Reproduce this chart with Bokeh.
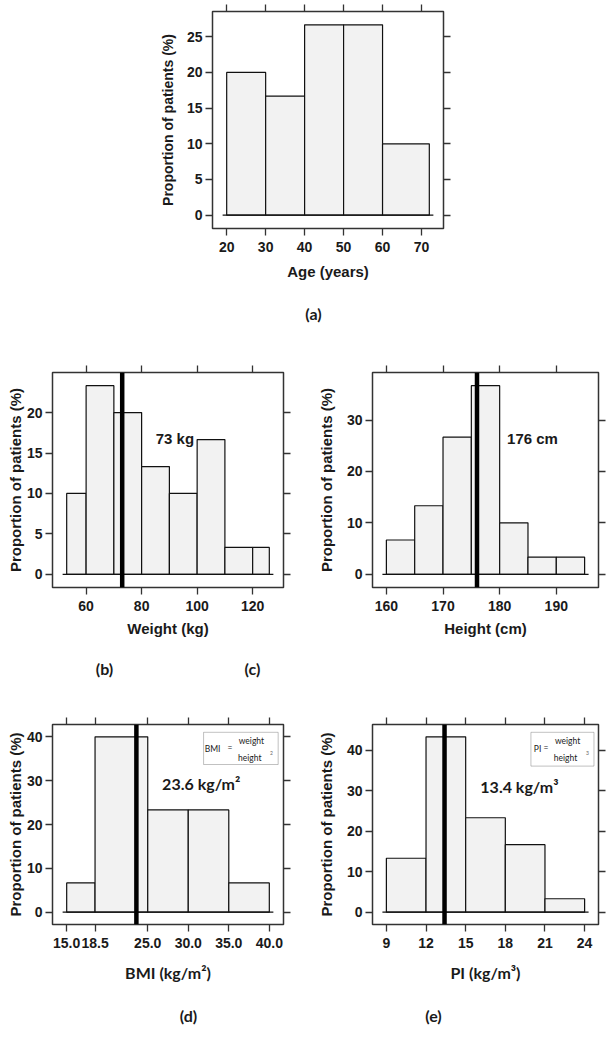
from bokeh.plotting import figure
from bokeh.models import (Range1d, FixedTicker, LinearAxis, Span, Label,
                          BoxAnnotation, PrintfTickFormatter, CustomLabelingPolicy)
from bokeh.layouts import column, row
from bokeh.embed import file_html
from bokeh.resources import INLINE

# ---------------- data ----------------
age_edges = [20, 30, 40, 50, 60, 72]
age_pct = [20.0, 16.67, 26.67, 26.67, 10.0]
age_xticks = [20, 30, 40, 50, 60, 70]
age_yticks = [0, 5, 10, 15, 20, 25]

weight_edges = [53, 60, 70, 80, 90, 100, 110, 120, 126]
weight_pct = [10.0, 23.33, 20.0, 13.33, 10.0, 16.67, 3.33, 3.33]
weight_xticks = [60, 80, 100, 120]
weight_yticks = [0, 5, 10, 15, 20]
weight_mean = 73

height_edges = [160, 165, 170, 175, 180, 185, 190, 195]
height_pct = [6.67, 13.33, 26.67, 36.67, 10.0, 3.33, 3.33]
height_xticks = [160, 170, 180, 190]
height_yticks = [0, 10, 20, 30]
height_mean = 176

bmi_edges = [15.0, 18.5, 25.0, 30.0, 35.0, 40.0]
bmi_pct = [6.67, 40.0, 23.33, 23.33, 6.67]
bmi_xticks = [15.0, 18.5, 25.0, 30.0, 35.0, 40.0]
bmi_yticks = [0, 10, 20, 30, 40]
bmi_mean = 23.6

pi_edges = [9, 12, 15, 18, 21, 24]
pi_pct = [13.33, 43.33, 23.33, 16.67, 3.33]
pi_xticks = [9, 12, 15, 18, 21, 24]
pi_yticks = [0, 10, 20, 30, 40]
pi_mean = 13.4

YLABEL = "Proportion of patients (%)"
ARIAL = "Liberation Sans"
CAL = "Lato"
TXT = "#1a1a1a"
FRAME = "#333333"

NO_LABELS = """
const n = (indices.size != null) ? indices.size : bboxes.length;
for (let i = 0; i < n; i++) {
  if (typeof indices.unset === 'function') { indices.unset(i) } else { indices.set(i, false) }
}
return indices
"""


def panel(edges, pct, xticks, yticks, xlabel, width, height,
          mbl, mbr, mbt, mbb, ylab_standoff, xlab_standoff,
          xlab_font=ARIAL, xlab_size="15px", ylab_size="15px", xfmt=None):
    sx = edges[-1] - edges[0]
    ymax = max(pct)
    p = figure(width=width, height=height,
               x_range=Range1d(edges[0] - 0.07 * sx, edges[-1] + 0.07 * sx),
               y_range=Range1d(-0.07 * ymax, 1.07 * ymax),
               output_backend="svg", toolbar_location=None,
               min_border_left=mbl, min_border_right=mbr,
               min_border_top=mbt, min_border_bottom=mbb)
    p.grid.visible = False
    p.outline_line_color = FRAME
    p.outline_line_width = 1.5
    p.background_fill_color = "white"
    p.border_fill_color = "white"

    def style(ax, labels=True):
        ax.axis_line_color = None
        ax.major_tick_in = 0
        ax.major_tick_out = 7
        ax.minor_tick_in = 0
        ax.minor_tick_out = 0
        ax.major_tick_line_color = FRAME
        ax.major_tick_line_width = 1.3
        if labels:
            ax.major_label_text_font = ARIAL
            ax.major_label_text_font_style = "bold"
            ax.major_label_text_font_size = "14px"
            ax.major_label_text_color = TXT
        else:
            ax.major_label_policy = CustomLabelingPolicy(code=NO_LABELS)
            ax.major_label_text_font_size = "1px"
            ax.major_label_standoff = 0

    xa = p.xaxis[0]
    ya = p.yaxis[0]
    xa.ticker = FixedTicker(ticks=xticks)
    ya.ticker = FixedTicker(ticks=yticks)
    if xfmt:
        xa.formatter = PrintfTickFormatter(format=xfmt)
    style(xa)
    style(ya)
    xa.major_label_standoff = 6
    ya.major_label_standoff = 3
    xa.axis_label = xlabel
    xa.axis_label_text_font = xlab_font
    xa.axis_label_text_font_style = "bold"
    xa.axis_label_text_font_size = xlab_size
    xa.axis_label_text_color = TXT
    xa.axis_label_standoff = xlab_standoff
    ya.axis_label = YLABEL
    ya.axis_label_text_font = ARIAL
    ya.axis_label_text_font_style = "bold"
    ya.axis_label_text_font_size = ylab_size
    ya.axis_label_text_color = TXT
    ya.axis_label_standoff = ylab_standoff

    top = LinearAxis(ticker=FixedTicker(ticks=xticks))
    style(top, labels=False)
    p.add_layout(top, "above")
    right = LinearAxis(ticker=FixedTicker(ticks=yticks))
    style(right, labels=False)
    p.add_layout(right, "right")

    p.quad(left=edges[:-1], right=edges[1:], bottom=0, top=pct,
           fill_color="#f2f2f2", line_color="#111111", line_width=1.2)
    pad = 0.02 * sx
    p.segment(x0=[edges[0] - pad], y0=[0], x1=[edges[-1] + pad], y1=[0],
              line_color="#111111", line_width=1.2)
    return p


def fx(p, f):
    return p.x_range.start + f * (p.x_range.end - p.x_range.start)


def fy(p, f):
    return p.y_range.start + f * (p.y_range.end - p.y_range.start)


def caption(width, height, items):
    c = figure(width=width, height=height, x_range=Range1d(0, width), y_range=Range1d(0, height),
               output_backend="svg", toolbar_location=None, x_axis_type=None, y_axis_type=None,
               min_border_left=0, min_border_right=0, min_border_top=0, min_border_bottom=0)
    c.outline_line_color = None
    c.grid.visible = False
    for text, x, y in items:
        c.add_layout(Label(x=x, y=y, text=text, text_font=CAL, text_font_style="bold",
                           text_font_size="16px", text_color=TXT, text_align="center",
                           text_baseline="middle"))
    return row(c)


def formula(p, name, power, box, name_x, eq_x, num_x, line, den_x, pow_x):
    l, r, b, t = box
    p.add_layout(BoxAnnotation(left=fx(p, l), right=fx(p, r), bottom=fy(p, b), top=fy(p, t),
                               fill_color="white", fill_alpha=1.0,
                               line_color="#333333", line_width=1))
    common = dict(text_font=CAL, text_font_size="8.5px", text_color=TXT, text_baseline="middle")
    p.add_layout(Label(x=fx(p, name_x), y=fy(p, 0.880), text=name, text_align="left", **common))
    p.add_layout(Label(x=fx(p, eq_x), y=fy(p, 0.885), text="=", text_align="center", **common))
    p.add_layout(Label(x=fx(p, num_x), y=fy(p, 0.918), text="weight", text_align="center", **common))
    p.add_layout(Label(x=fx(p, den_x), y=fy(p, 0.835), text="height", text_align="center", **common))
    p.add_layout(Label(x=fx(p, pow_x), y=fy(p, 0.858), text=power, text_align="center",
                       text_font=CAL, text_font_size="5px", text_color="#666666",
                       text_baseline="middle"))
    p.segment(x0=[fx(p, line[0])], y0=[fy(p, 0.882)], x1=[fx(p, line[1])], y1=[fy(p, 0.882)],
              line_color="#555555", line_width=0.8)


# ---------------- (a) Age ----------------
pa = panel(age_edges, age_pct, age_xticks, age_yticks, "Age (years)",
           609, 290, 212, 166, 7, 62, ylab_standoff=8, xlab_standoff=8, ylab_size="14px")
cap_a = caption(609, 45, [("(a)", 313, 22)])

# ---------------- (b) Weight ----------------
pb = panel(weight_edges, weight_pct, weight_xticks, weight_yticks, "Weight (kg)",
           300, 315, 52, 17, 37, 63, ylab_standoff=0, xlab_standoff=6)
pb.add_layout(Span(location=weight_mean, dimension="height", line_color="black", line_width=4.5))
pb.add_layout(Label(x=92, y=16.8, text="73 kg", text_font=ARIAL, text_font_style="bold",
                    text_font_size="15px", text_color=TXT, text_align="center",
                    text_baseline="middle"))

# ---------------- (c) Height ----------------
pc = panel(height_edges, height_pct, height_xticks, height_yticks, "Height (cm)",
           309, 315, 72, 7, 37, 63, ylab_standoff=9, xlab_standoff=6)
pc.add_layout(Span(location=height_mean, dimension="height", line_color="black", line_width=4.5))
pc.add_layout(Label(x=185.8, y=26.4, text="176 cm", text_font=ARIAL, text_font_style="bold",
                    text_font_size="15px", text_color=TXT, text_align="center",
                    text_baseline="middle"))
cap_bc = caption(609, 40, [("(b)", 104, 22), ("(c)", 252, 22)])

# ---------------- (d) BMI ----------------
pd_ = panel(bmi_edges, bmi_pct, bmi_xticks, bmi_yticks, "BMI (kg/m²)",
            300, 305, 52, 17, 34, 71, ylab_standoff=0, xlab_standoff=12,
            xlab_font=CAL, xlab_size="16px", xfmt="%.1f")
pd_.add_layout(Span(location=bmi_mean, dimension="height", line_color="black", line_width=4.5))
pd_.add_layout(Label(x=31.6, y=29.25, text="23.6 kg/m²", text_font=CAL, text_font_style="bold",
                     text_font_size="16px", text_color=TXT, text_align="center",
                     text_baseline="middle"))
formula(pd_, "BMI", "2", (0.654, 0.977, 0.80, 0.961), 0.659, 0.768, 0.861, (0.785, 0.963), 0.854, 0.948)

# ---------------- (e) PI ----------------
pe = panel(pi_edges, pi_pct, pi_xticks, pi_yticks, "PI (kg/m³)",
           309, 305, 72, 7, 34, 71, ylab_standoff=9, xlab_standoff=12,
           xlab_font=CAL, xlab_size="16px")
pe.add_layout(Span(location=pi_mean, dimension="height", line_color="black", line_width=4.5))
pe.add_layout(Label(x=19.07, y=31.0, text="13.4 kg/m³", text_font=CAL, text_font_style="bold",
                    text_font_size="16px", text_color=TXT, text_align="center",
                    text_baseline="middle"))
formula(pe, "PI", "3", (0.701, 0.980, 0.792, 0.961), 0.714, 0.768, 0.863, (0.795, 0.968), 0.854, 0.951)
cap_de = caption(609, 55, [("(d)", 188, 35), ("(e)", 433, 35)])

layout = column(pa, cap_a, row(pb, pc), cap_bc, row(pd_, pe), cap_de)
open("out.html", "w").write(file_html(layout, INLINE))
